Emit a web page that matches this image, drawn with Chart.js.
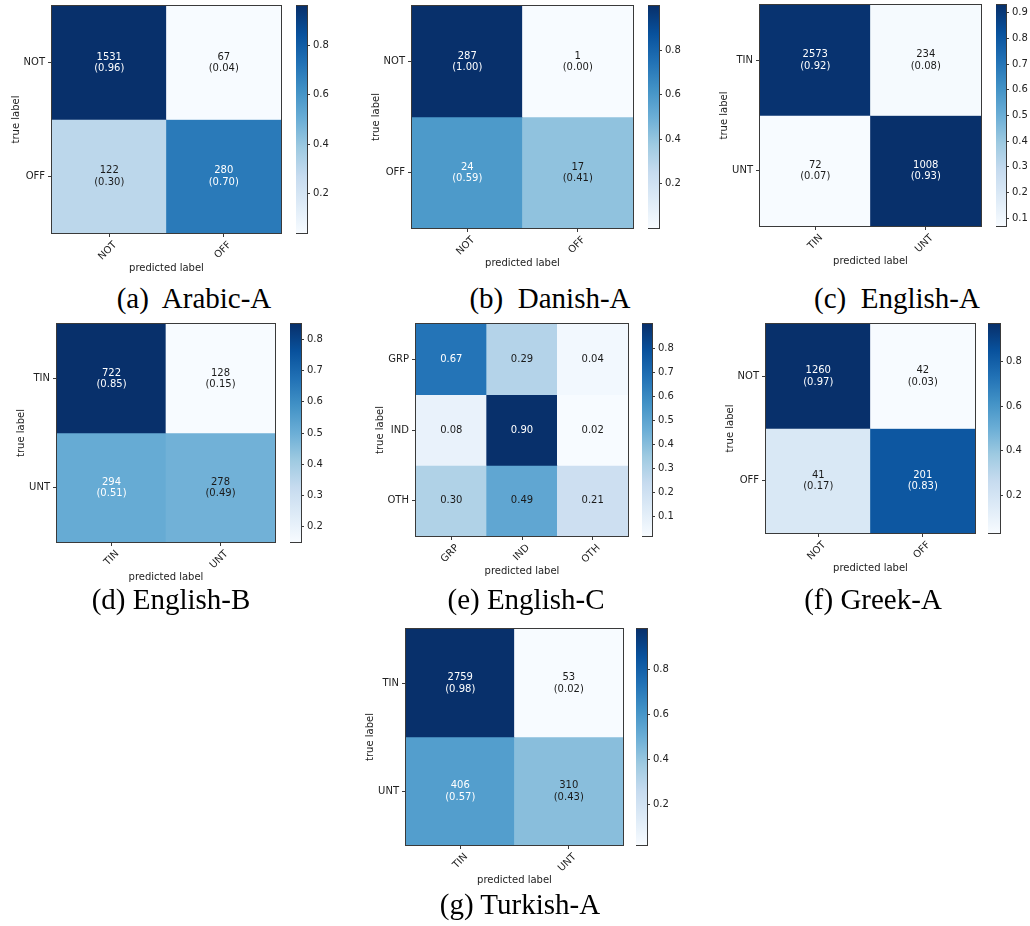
<!DOCTYPE html>
<html>
<head>
<meta charset="utf-8">
<script src="https://cdn.jsdelivr.net/npm/chart.js@4/dist/chart.umd.min.js"></script>
<style>
  html, body { margin: 0; padding: 0; background: #fff; }
  body { position: relative; width: 1030px; height: 926px; overflow: hidden; }
  canvas { position: absolute; }
  .cap {
    position: absolute;
    font-family: 'Liberation Serif', 'Times New Roman', serif;
    font-size: 29px;
    line-height: 29px;
    white-space: pre;
    transform: translateX(-50%);
    color: #000;
  }
</style>
</head>
<body>
<script>
// Class names
const offenseLabels = ['NOT', 'OFF'];
const targetedLabels = ['TIN', 'UNT'];
const targetLabels = ['GRP', 'IND', 'OTH'];

// Confusion counts (rows = true label, columns = predicted label) and row-normalised rates
const arabicCounts = [[1531, 67], [122, 280]];
const arabicRates = [[0.96, 0.04], [0.30, 0.70]];

const danishCounts = [[287, 1], [24, 17]];
const danishRates = [[1.00, 0.00], [0.59, 0.41]];

const englishACounts = [[2573, 234], [72, 1008]];
const englishARates = [[0.92, 0.08], [0.07, 0.93]];

const englishBCounts = [[722, 128], [294, 278]];
const englishBRates = [[0.85, 0.15], [0.51, 0.49]];

const englishCRates = [[0.67, 0.29, 0.04], [0.08, 0.90, 0.02], [0.30, 0.49, 0.21]];

const greekCounts = [[1260, 42], [41, 201]];
const greekRates = [[0.97, 0.03], [0.17, 0.83]];

const turkishCounts = [[2759, 53], [406, 310]];
const turkishRates = [[0.98, 0.02], [0.57, 0.43]];

// Colour-bar tick labels
const barTicksFifths = [0.2, 0.4, 0.6, 0.8];
const barTicksTenthsTo9 = [0.1, 0.2, 0.3, 0.4, 0.5, 0.6, 0.7, 0.8, 0.9];
const barTicksTenthsTo8 = [0.1, 0.2, 0.3, 0.4, 0.5, 0.6, 0.7, 0.8];
const barTicksTenthsFrom2 = [0.2, 0.3, 0.4, 0.5, 0.6, 0.7, 0.8];

const panels = [
  { caption: '(a)  Arabic-A', labels: offenseLabels, counts: arabicCounts, rates: arabicRates, barTicks: barTicksFifths },
  { caption: '(b)  Danish-A', labels: offenseLabels, counts: danishCounts, rates: danishRates, barTicks: barTicksFifths },
  { caption: '(c)  English-A', labels: targetedLabels, counts: englishACounts, rates: englishARates, barTicks: barTicksTenthsTo9 },
  { caption: '(d) English-B', labels: targetedLabels, counts: englishBCounts, rates: englishBRates, barTicks: barTicksTenthsFrom2 },
  { caption: '(e) English-C', labels: targetLabels, counts: null, rates: englishCRates, barTicks: barTicksTenthsTo8 },
  { caption: '(f) Greek-A', labels: offenseLabels, counts: greekCounts, rates: greekRates, barTicks: barTicksFifths },
  { caption: '(g) Turkish-A', labels: targetedLabels, counts: turkishCounts, rates: turkishRates, barTicks: barTicksFifths }
];

// Page layout: heat-map plot box [left, top, right, bottom], colour bar [left, right], caption [centre x, baseline]
const boxes = [
  { map: [52, 6, 281, 233],   bar: [296, 307],  cap: [194, 308] },
  { map: [412, 6, 633, 228],  bar: [648, 659],  cap: [550, 308] },
  { map: [760, 5, 981, 226],  bar: [996, 1006], cap: [897, 308] },
  { map: [57, 324, 275, 542], bar: [290, 301],  cap: [171, 609] },
  { map: [416, 324, 628, 536], bar: [642, 652], cap: [526, 609] },
  { map: [766, 324, 975, 533], bar: [988, 1000], cap: [873, 609] },
  { map: [406, 629, 623, 845], bar: [636, 647], cap: [520, 914] }
];

// Sequential "Blues" colour map
const BLUES = ['#f7fbff', '#deebf7', '#c6dbef', '#9ecae1', '#6baed6', '#4292c6', '#2171b5', '#08519c', '#08306b'];
const BLUES_RGB = BLUES.map(h => [1, 3, 5].map(i => parseInt(h.slice(i, i + 2), 16)));
function blues(t) {
  t = Math.max(0, Math.min(1, t));
  const s = t * (BLUES_RGB.length - 1);
  const i = Math.min(Math.floor(s), BLUES_RGB.length - 2);
  const f = s - i;
  const a = BLUES_RGB[i], b = BLUES_RGB[i + 1];
  return 'rgb(' + a.map((v, k) => Math.round(v + (b[k] - v) * f)).join(',') + ')';
}

Chart.defaults.font.family = "'DejaVu Sans', 'Liberation Sans', sans-serif";
Chart.defaults.font.size = 10;
Chart.defaults.color = '#222';
Chart.defaults.animation = false;

const FRAME = '#3a3a3a';

// Outline around the plotting area (matplotlib-style spines)
const framePlugin = {
  id: 'frame',
  afterDraw(chart) {
    const { ctx, chartArea: a } = chart;
    ctx.save();
    ctx.strokeStyle = FRAME;
    ctx.lineWidth = 1;
    ctx.strokeRect(Math.round(a.left) - 0.5, Math.round(a.top) - 0.5,
                   Math.round(a.right - a.left) + 1, Math.round(a.bottom - a.top) + 1);
    ctx.restore();
  }
};

// Count and rate printed in the middle of each cell
const cellTextPlugin = {
  id: 'cellText',
  afterDatasetsDraw(chart, args, opts) {
    const { ctx } = chart;
    const panel = opts.panel;
    ctx.save();
    ctx.font = "10px 'DejaVu Sans', sans-serif";
    ctx.textAlign = 'center';
    ctx.textBaseline = 'middle';
    chart.data.datasets.forEach((ds, r) => {
      const meta = chart.getDatasetMeta(r);
      meta.data.forEach((el, c) => {
        const rate = panel.rates[r][c];
        const cx = el.x;
        const cy = (el.y + el.base) / 2;
        ctx.fillStyle = rate > 0.5 ? '#ffffff' : '#1a1a1a';
        if (panel.counts) {
          ctx.fillText(String(panel.counts[r][c]), cx, cy - 5.5);
          ctx.fillText('(' + rate.toFixed(2) + ')', cx, cy + 6);
        } else {
          ctx.fillText(rate.toFixed(2), cx, cy);
        }
      });
    });
    ctx.restore();
  }
};

function makeCanvas(left, top, width, height) {
  const cv = document.createElement('canvas');
  cv.width = width;
  cv.height = height;
  cv.style.left = left + 'px';
  cv.style.top = top + 'px';
  cv.style.width = width + 'px';
  cv.style.height = height + 'px';
  document.body.appendChild(cv);
  return cv;
}

function rangeOf(rates) {
  const flat = rates.flat();
  return [Math.min(...flat), Math.max(...flat)];
}

function drawHeatmap(panel, box) {
  const [L, T, R, B] = box.map;
  const AW = 44, AH = 46, PT = 12, PR = 2;
  const cv = makeCanvas(L - AW, T - PT, AW + (R - L) + PR, PT + (B - T) + AH);
  const [lo, hi] = rangeOf(panel.rates);
  const n = panel.labels.length;

  new Chart(cv, {
    type: 'bar',
    data: {
      labels: panel.labels,
      datasets: panel.rates.map((row, r) => ({
        label: panel.labels[r],
        data: row.map(() => [r - 0.5, r + 0.5]),
        backgroundColor: row.map(v => blues((v - lo) / (hi - lo))),
        borderWidth: 0,
        grouped: false,
        barPercentage: 1,
        categoryPercentage: 1
      }))
    },
    options: {
      responsive: false,
      devicePixelRatio: 1,
      layout: { padding: { top: PT, right: PR, left: 0, bottom: 0 } },
      plugins: { legend: { display: false }, tooltip: { enabled: false }, cellText: { panel } },
      scales: {
        x: {
          type: 'category',
          offset: true,
          grid: { offset: false, drawOnChartArea: false, drawTicks: true, tickLength: 4, color: FRAME },
          border: { display: false },
          ticks: { minRotation: 45, maxRotation: 45, autoSkip: false, padding: 2, labelOffset: 6, color: '#222' },
          title: { display: true, text: 'predicted label', color: '#222', padding: { top: 0, bottom: 5 } },
          afterFit: s => { s.height = AH; }
        },
        y: {
          type: 'linear',
          reverse: true,
          min: -0.5,
          max: n - 0.5,
          afterBuildTicks: s => { s.ticks = panel.labels.map((_, i) => ({ value: i })); },
          grid: { drawOnChartArea: false, drawTicks: true, tickLength: 4, color: FRAME },
          border: { display: false },
          ticks: { padding: 3, color: '#222', callback: v => panel.labels[v] },
          title: { display: true, text: 'true label', color: '#222', padding: { top: 2, bottom: 0 } },
          afterFit: s => { s.width = AW; }
        }
      }
    },
    plugins: [cellTextPlugin, framePlugin]
  });
}

function drawColorbar(panel, box) {
  const [, T, , B] = box.map;
  const [cl, cr] = box.bar;
  const TW = 34, PV = 12;
  const cv = makeCanvas(cl, T - PV, (cr - cl) + TW, (B - T) + 2 * PV);
  const [lo, hi] = rangeOf(panel.rates);

  new Chart(cv, {
    type: 'bar',
    data: {
      labels: [''],
      datasets: [{
        data: [[lo, hi]],
        borderWidth: 0,
        barPercentage: 1,
        categoryPercentage: 1,
        backgroundColor: c => {
          const area = c.chart.chartArea;
          if (!area) return BLUES[4];
          const g = c.chart.ctx.createLinearGradient(0, area.bottom, 0, area.top);
          BLUES.forEach((col, i) => g.addColorStop(i / (BLUES.length - 1), col));
          return g;
        }
      }]
    },
    options: {
      responsive: false,
      devicePixelRatio: 1,
      layout: { padding: { top: PV, bottom: PV, left: 0, right: 0 } },
      plugins: { legend: { display: false }, tooltip: { enabled: false } },
      scales: {
        x: { display: false },
        y: {
          type: 'linear',
          position: 'right',
          min: lo,
          max: hi,
          afterBuildTicks: s => { s.ticks = panel.barTicks.map(v => ({ value: v })); },
          grid: { drawOnChartArea: false, drawTicks: true, tickLength: 3, color: FRAME },
          border: { display: false },
          ticks: { padding: 3, color: '#222', callback: v => Number(v).toFixed(1) },
          afterFit: s => { s.width = TW; }
        }
      }
    },
    plugins: [framePlugin]
  });
}

function drawCaption(panel, box) {
  const [cx, base] = box.cap;
  const d = document.createElement('div');
  d.className = 'cap';
  d.textContent = panel.caption;
  d.style.left = cx + 'px';
  d.style.top = (base - 24) + 'px';
  document.body.appendChild(d);
}

panels.forEach((p, i) => {
  drawHeatmap(p, boxes[i]);
  drawColorbar(p, boxes[i]);
  drawCaption(p, boxes[i]);
});
</script>
</body>
</html>
